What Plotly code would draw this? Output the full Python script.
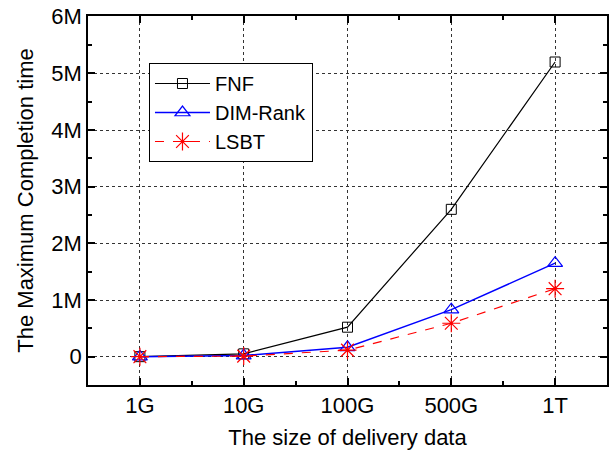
import plotly.graph_objects as go

categories = ["1G", "10G", "100G", "500G", "1T"]
fnf = [0, 50000, 520000, 2600000, 5200000]
dim_rank = [0, 20000, 165000, 830000, 1650000]
lsbt = [0, 10000, 115000, 590000, 1200000]
y_tickvals = [0, 1e6, 2e6, 3e6, 4e6, 5e6, 6e6]
y_ticktext = ["0", "1M", "2M", "3M", "4M", "5M", "6M"]

xpos = list(range(len(categories)))
FONT = "Liberation Sans, Arial"

fig = go.Figure()
fig.add_trace(go.Scatter(x=xpos, y=fnf, name="FNF", mode="lines+markers",
                         line=dict(color="black", width=1.2),
                         marker=dict(symbol="square-open", size=10, color="black", line=dict(width=1))))
fig.add_trace(go.Scatter(x=xpos, y=dim_rank, name="DIM-Rank", mode="lines+markers",
                         line=dict(color="blue", width=1.5),
                         marker=dict(symbol="triangle-up-open", size=13, color="blue", line=dict(width=1.2))))
fig.add_trace(go.Scatter(x=xpos, y=lsbt, name="LSBT", mode="lines+markers",
                         line=dict(color="red", width=1.2, dash="dash"),
                         marker=dict(symbol="asterisk-open", size=15, color="red", line=dict(width=1.2, color="red"))))

axis_common = dict(showline=True, linecolor="black", linewidth=1.5, mirror="ticks",
                   ticks="inside", ticklen=7, tickwidth=1.5, tickcolor="black",
                   showgrid=True, gridcolor="#333", griddash="dot", gridwidth=1,
                   zeroline=False, automargin=False, ticklabeloverflow="allow",
                   tickfont=dict(family=FONT, size=22, color="black"))

fig.update_xaxes(range=[-0.5, 4.5], tickvals=xpos, ticktext=categories,
                 title=dict(text="The size of delivery data", font=dict(family=FONT, size=22, color="black"), standoff=12),
                 minor=dict(tickvals=[-0.5, 0.5, 1.5, 2.5, 3.5], ticks="inside", ticklen=4, tickwidth=1.5, tickcolor="black", showgrid=False),
                 **axis_common)
fig.update_yaxes(range=[-500000, 6012000], tickvals=y_tickvals, ticktext=y_ticktext,
                 title=dict(text="The Maximum Completion time", font=dict(family=FONT, size=22, color="black"), standoff=12),
                 minor=dict(tickvals=[-5e5, 5e5, 1.5e6, 2.5e6, 3.5e6, 4.5e6, 5.5e6], ticks="inside", ticklen=4, tickwidth=1.5, tickcolor="black", showgrid=False),
                 **axis_common)

fig.update_layout(width=613, height=455, margin=dict(l=88, r=6, t=16, b=70),
                  plot_bgcolor="white", paper_bgcolor="white",
                  font=dict(family=FONT, size=22, color="black"),
                  legend=dict(x=0.1175, y=0.8726, xanchor="left", yanchor="top",
                              bgcolor="white", bordercolor="black", borderwidth=1,
                              font=dict(family=FONT, size=20), tracegroupgap=0, itemwidth=55),
                  showlegend=True)

fig.write_html("out.html", config={"displayModeBar": False},
               post_script="document.body.style.margin='0';document.body.style.overflow='hidden';")
